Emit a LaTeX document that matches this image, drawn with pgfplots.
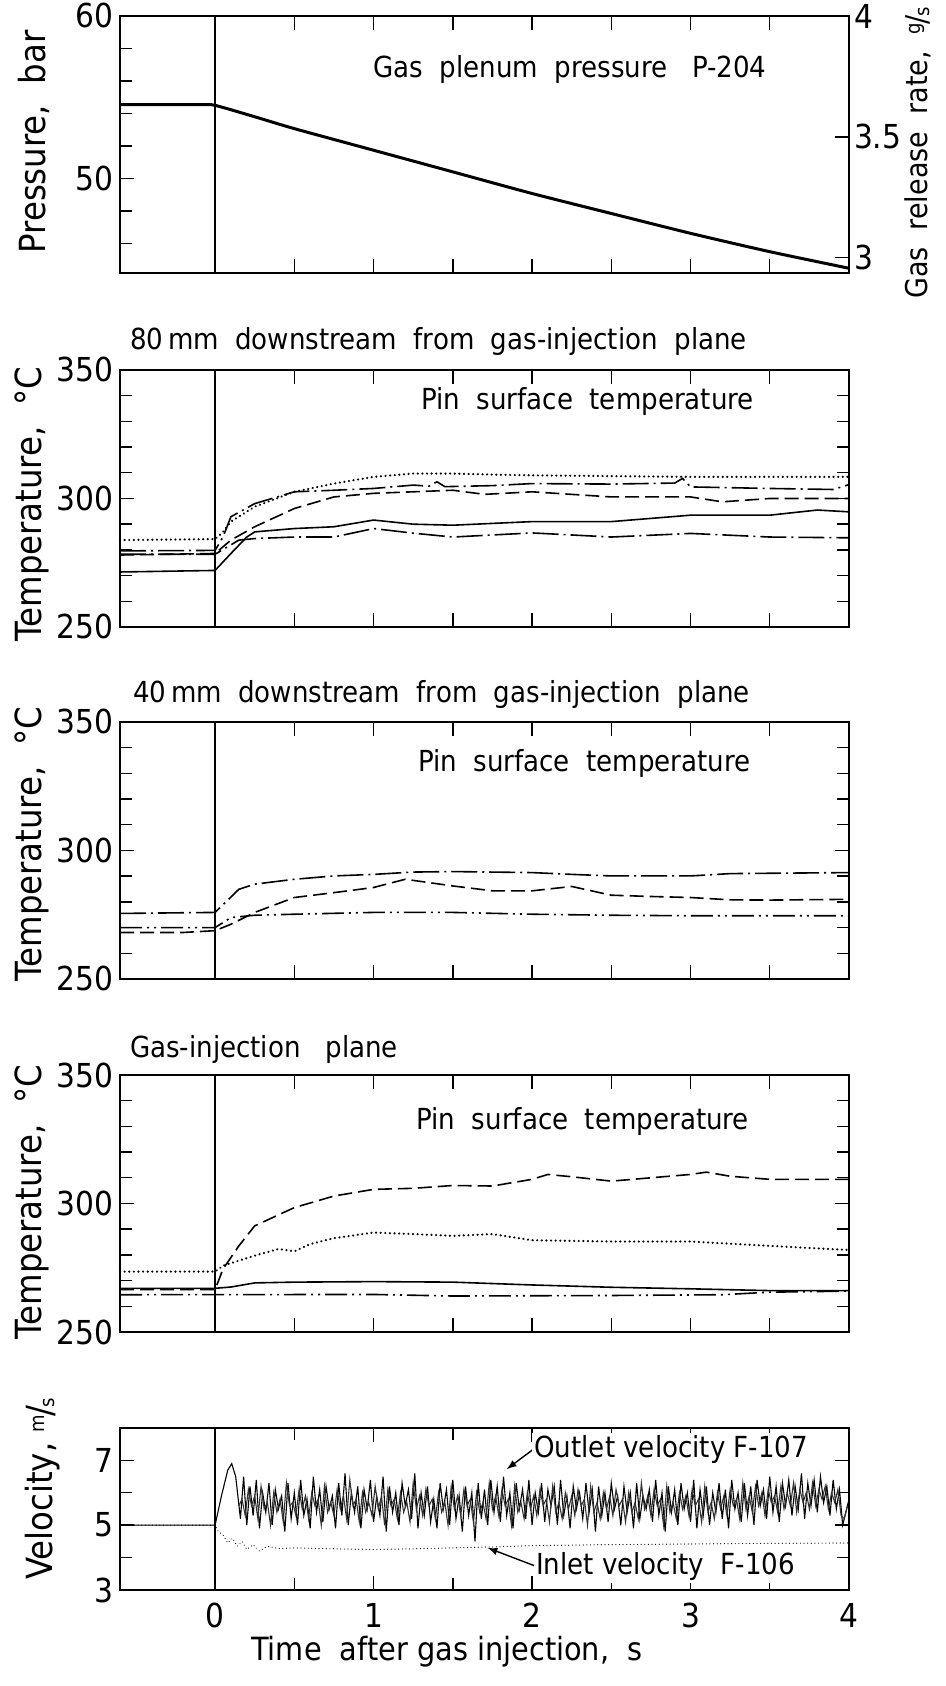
\documentclass[border=0pt]{standalone}
\usepackage{pgfplots}
\pgfplotsset{compat=1.18}
\usepackage{fontspec}
\setmainfont{DejaVu Sans Condensed}
\newcommand{\tfont}{\fontsize{16.5}{16.5}\selectfont}
\newcommand{\lfont}{\fontsize{18}{18}\selectfont}
\newcommand{\afont}{\fontsize{14.5}{15}\selectfont}
\newcommand{\unitfrac}[2]{\raisebox{0.45ex}{\fontsize{10}{10}\selectfont #1}\kern-0.05em/\kern-0.05em\raisebox{-0.1ex}{\fontsize{10}{10}\selectfont #2}}
\tikzset{
 dotl/.style={black, line width=1.2pt, line cap=round, dash pattern=on 0.01pt off 2.3pt},
 dashl/.style={black, line width=0.8pt, dash pattern=on 7pt off 3pt},
 ldl/.style={black, line width=0.8pt, dash pattern=on 13pt off 2.5pt on 1pt off 2.5pt},
 lddl/.style={black, line width=0.8pt, dash pattern=on 11pt off 2.5pt on 1pt off 2.5pt on 1pt off 2.5pt},
 soll/.style={black, line width=0.8pt},
}
\pgfplotsset{
 panel/.style={scale only axis, width=364.5pt, xmin=-0.6, xmax=4,
   axis line style={line width=1.1pt}, tick align=inside,
   xtick={0.5,1,1.5,2,2.5,3,3.5}, xticklabels={}, xtick pos=both,
   tick style={black,line width=0.7pt}, major tick length=7pt, minor tick length=6pt,
   tick label style={font=\tfont}, /pgf/number format/assume math mode=true,
   anchor=north west, clip=false},
 temp/.style={panel, height=128.5pt, ymin=250, ymax=350, ytick={250,300,350},
   minor ytick={260,270,280,290,310,320,330,340}, ytick pos=both, yticklabel pos=left},
}
\begin{document}
\begin{tikzpicture}
\useasboundingbox (0,0) rectangle (473pt,843pt);

% ---------------- Panel 1: pressure ----------------
\begin{axis}[panel, at={(60pt,835pt)}, height=128.5pt, ymin=44.19, ymax=60,
  ytick={50,60}, minor ytick={46,48,52,54,56,58}, ytick pos=left]
\addplot[soll, line width=0.6pt] coordinates {(0,44.19) (0,60)};
\addplot[black, line width=1.5pt, smooth, tension=0.4] coordinates {
 (-0.6,54.55) (-0.1,54.55) (0,54.5) (0.25,53.8) (0.5,53.07) (1.0,51.74) (1.5,50.41) (2.0,49.08)
 (2.5,47.85) (3.0,46.63) (3.5,45.5) (4.0,44.48)};
\node[font=\afont] at (axis cs:2.24,56.7) {Gas~~plenum~~pressure~~~P-204};
\end{axis}
\begin{axis}[panel, at={(60pt,835pt)}, height=128.5pt, ymin=2.937, ymax=4,
  axis x line=none, axis y line*=right, ytick={3,3.5,4}, yticklabels={3,3.5,4},
  yticklabel style={xshift=-1pt}]
\end{axis}
\node[font=\lfont, rotate=90] at (17pt,772pt) {Pressure,~~bar};
\node[font=\fontsize{15}{15}\selectfont, rotate=90] at (459pt,766.5pt) {Gas~~release~~rate,~~\unitfrac{g}{s}};

% ---------------- Panel 2: 80 mm ----------------
\node[font=\afont, anchor=west] at (61.5pt,672pt) {80\,mm~~downstream~~from~~gas-injection~~plane};
\begin{axis}[temp, at={(60pt,658pt)}]
\addplot[soll, line width=0.6pt] coordinates {(0,250) (0,350)};
\addplot[dotl] coordinates {(-0.6,283.8) (0,284.2) (0.05,287) (0.1,291) (0.25,296.8) (0.5,302.6)
 (0.75,305.8) (1.0,308.4) (1.25,309.7) (1.5,309.7) (1.75,309.3) (2.0,309) (2.5,308.7) (3.0,308.4) (3.5,308.4) (4.0,308.4)};
\addplot[ldl] coordinates {(-0.6,279.6) (0,279.8) (0.05,285) (0.1,292.9) (0.25,298) (0.5,302.6) (0.75,303.2)
 (1.0,303.9) (1.25,305.2) (1.35,304.8) (1.4,306.5) (1.45,304.6) (1.75,305.0) (2.0,305.8) (2.5,305.6)
 (2.9,306) (2.95,307.8) (3.0,304.5) (3.5,303.9) (3.9,303.5) (4.0,305.4)};
\addplot[dashl] coordinates {(-0.6,278) (0,278.6) (0.1,283.8) (0.25,289) (0.5,296.1) (0.75,300.6) (1.0,302)
 (1.5,303.2) (1.7,301.6) (2.0,302.6) (2.5,300.6) (3.0,300.6) (3.2,298.7) (3.5,300) (4.0,300)};
\addplot[soll] coordinates {(-0.6,271.4) (0,272) (0.1,278.6) (0.2,285) (0.25,287) (0.5,288.3) (0.75,289)
 (1.0,291.6) (1.25,290) (1.5,289.6) (2.0,291) (2.5,291) (3.0,293.5) (3.5,293.5) (3.8,295.5) (4.0,294.8)};
\addplot[ldl] coordinates {(-0.6,278.3) (0,278.3) (0.15,283.8) (0.25,284.4) (0.5,285) (0.75,285) (1.0,288.3)
 (1.25,286.5) (1.5,285) (2.0,286.6) (2.5,285) (3.0,286.4) (3.5,285) (4.0,284.7)};
\node[font=\afont] at (axis cs:2.35,337.9) {Pin~~surface~~temperature};
\end{axis}
\node[font=\lfont, rotate=90] at (16pt,591pt) {Temperature,~~°C};

% ---------------- Panel 3: 40 mm ----------------
\node[font=\afont, anchor=west] at (63pt,495.5pt) {40\,mm~~downstream~~from~~gas-injection~~plane};
\begin{axis}[temp, at={(60pt,482pt)}]
\addplot[soll, line width=0.6pt] coordinates {(0,250) (0,350)};
\addplot[ldl] coordinates {(-0.6,275.5) (0,275.9) (0.15,284.9) (0.25,286.9) (0.5,288.8) (0.75,290.1)
 (1.0,290.7) (1.25,291.6) (1.5,291.8) (2.0,291.4) (2.25,290.7) (2.5,290.1) (3.0,290.1) (3.25,291) (4.0,291.4)};
\addplot[dashl] coordinates {(-0.6,268.1) (-0.2,268.1) (0,268.8) (0.1,271.3) (0.25,275.9) (0.5,281.7)
 (0.75,283.6) (1.0,285.6) (1.2,288.8) (1.5,286.2) (1.75,284.3) (2.0,284.3) (2.25,286) (2.5,282.6)
 (2.75,282.1) (3.0,281.7) (3.25,280.8) (3.5,280.7) (4.0,281)};
\addplot[lddl] coordinates {(-0.6,270) (0,270) (0.1,273.9) (0.25,274.8) (0.5,275.2) (1.0,275.9) (1.5,275.9)
 (2.0,275.2) (2.5,274.8) (3.0,274.6) (4.0,274.6)};
\node[font=\afont] at (axis cs:2.33,334) {Pin~~surface~~temperature};
\end{axis}
\node[font=\lfont, rotate=90] at (16pt,421pt) {Temperature,~~°C};

% ---------------- Panel 4: gas-injection plane ----------------
\node[font=\afont, anchor=west] at (61.5pt,318pt) {Gas-injection~~~plane};
\begin{axis}[temp, at={(60pt,305.5pt)}]
\addplot[soll, line width=0.6pt] coordinates {(0,250) (0,350)};
\addplot[dashl] coordinates {(-0.6,266.5) (0,266.5) (0.05,274.5) (0.15,283.5) (0.25,291.3) (0.5,298.4)
 (0.75,302.9) (1.0,305.5) (1.25,305.9) (1.5,307) (1.75,306.8) (2.0,309.4) (2.1,311.3) (2.25,310.4)
 (2.5,308.7) (2.75,310) (3.0,311.3) (3.1,312.2) (3.25,310.6) (3.5,309.4) (4.0,309.4)};
\addplot[dotl] coordinates {(-0.6,273.5) (0,273.5) (0.05,275.8) (0.25,279.7) (0.4,282.3) (0.5,281.4)
 (0.6,284.2) (0.75,286.5) (1.0,288.7) (1.25,288.1) (1.5,287.4) (1.75,288.1) (2.0,285.7) (2.5,285.2)
 (3.0,285.2) (3.5,283.5) (4.0,281.9)};
\addplot[soll] coordinates {(-0.6,267) (0,267) (0.1,267.5) (0.25,269.1) (0.5,269.4) (1.0,269.6) (1.5,269.4)
 (2.0,268.3) (2.5,267.4) (3.0,266.8) (3.5,266.1) (4.0,266.1)};
\addplot[lddl] coordinates {(-0.6,264.5) (1.0,264.6) (1.5,264) (2.5,264.2) (3.2,264.5) (3.5,265.5) (4.0,265.9)};
\node[font=\afont] at (axis cs:2.32,331.8) {Pin~~surface~~temperature};
\end{axis}
\node[font=\lfont, rotate=90] at (16pt,242pt) {Temperature,~~°C};

% ---------------- Panel 5: velocity ----------------
\begin{axis}[panel, at={(60pt,129pt)}, height=81pt, ymin=3, ymax=8,
  ytick={3,5,7}, minor ytick={4,6}, ytick pos=both, yticklabel pos=left,
  xtick={0,1,2,3,4}, xticklabels={0,1,2,3,4}, minor xtick={0.5,1.5,2.5,3.5},
  xticklabel pos=lower, xticklabel style={yshift=-3pt}]
\addplot[soll, line width=0.6pt] coordinates {(0,3) (0,8)};
\addplot[black, line width=0.55pt] table[row sep=\\] {
t v\\
-0.6 5.0\\ 0 5.0\\ 0.04 5.9\\ 0.08 6.7\\ 0.105 6.9\\ 0.13 6.5\\
0.16 5.2\\ 0.18 6.5\\ 0.20 5.0\\ 0.22 6.2\\ 0.24 5.3\\ 0.26 6.4\\ 0.28 4.9\\ 0.30 6.0\\ 0.32 5.4\\ 0.34 6.3\\
0.36 5.0\\ 0.38 6.1\\ 0.40 5.5\\ 0.42 5.9\\ 0.44 4.8\\ 0.46 6.3\\ 0.48 5.2\\ 0.50 6.0\\ 0.52 5.0\\ 0.54 6.4\\
0.56 5.3\\ 0.58 5.8\\ 0.60 4.9\\ 0.62 6.5\\ 0.64 5.4\\ 0.66 6.1\\ 0.68 5.1\\ 0.70 6.2\\ 0.72 5.5\\ 0.74 5.9\\
0.76 4.9\\ 0.78 6.3\\ 0.80 5.3\\ 0.82 6.6\\ 0.84 5.0\\ 0.86 6.0\\ 0.88 5.4\\ 0.90 6.2\\ 0.92 4.9\\ 0.94 6.1\\
0.96 5.5\\ 0.98 6.4\\ 1.00 5.1\\ 1.02 5.9\\ 1.04 5.3\\ 1.06 6.5\\ 1.08 4.8\\ 1.10 6.2\\ 1.12 5.4\\ 1.14 6.0\\
1.16 5.0\\ 1.18 6.3\\ 1.20 5.6\\ 1.22 6.1\\ 1.24 5.2\\ 1.26 6.6\\ 1.28 4.9\\ 1.30 6.0\\ 1.32 5.3\\ 1.34 6.2\\
1.36 5.1\\ 1.38 5.8\\ 1.40 4.9\\ 1.42 6.3\\ 1.44 5.5\\ 1.46 6.1\\ 1.48 5.0\\ 1.50 6.4\\ 1.52 5.2\\ 1.54 5.9\\
1.56 4.8\\ 1.58 6.2\\ 1.60 5.3\\ 1.62 6.0\\ 1.64 4.5\\ 1.66 6.3\\ 1.68 5.2\\ 1.70 6.1\\ 1.72 5.0\\ 1.74 6.4\\
1.76 5.4\\ 1.78 6.2\\ 1.80 5.1\\ 1.82 6.5\\ 1.84 5.3\\ 1.86 6.0\\ 1.88 4.9\\ 1.90 6.3\\ 1.92 5.5\\ 1.94 6.1\\
1.96 5.2\\ 1.98 6.4\\ 2.00 5.0\\ 2.02 6.0\\ 2.04 5.4\\ 2.06 6.3\\ 2.08 5.1\\ 2.10 6.1\\ 2.12 5.6\\ 2.14 6.2\\
2.16 5.0\\ 2.18 6.4\\ 2.20 5.3\\ 2.22 5.9\\ 2.24 4.9\\ 2.26 6.2\\ 2.28 5.5\\ 2.30 6.0\\ 2.32 5.2\\ 2.34 6.3\\
2.36 5.4\\ 2.38 6.1\\ 2.40 4.8\\ 2.42 6.2\\ 2.44 5.3\\ 2.46 6.0\\ 2.48 5.1\\ 2.50 6.3\\ 2.52 5.5\\ 2.54 5.9\\
2.56 5.0\\ 2.58 6.2\\ 2.60 5.4\\ 2.62 6.0\\ 2.64 4.9\\ 2.66 6.3\\ 2.68 5.2\\ 2.70 5.9\\ 2.72 5.5\\ 2.74 6.1\\
2.76 5.1\\ 2.78 6.4\\ 2.80 5.3\\ 2.82 6.0\\ 2.84 4.8\\ 2.86 6.2\\ 2.88 5.4\\ 2.90 6.1\\ 2.92 5.0\\ 2.94 6.3\\
2.96 5.5\\ 2.98 6.0\\ 3.00 5.1\\ 3.02 6.4\\ 3.04 4.9\\ 3.06 6.1\\ 3.08 5.3\\ 3.10 6.2\\ 3.12 5.0\\ 3.14 6.0\\
3.16 5.4\\ 3.18 6.3\\ 3.20 5.2\\ 3.22 6.1\\ 3.24 4.9\\ 3.26 6.4\\ 3.28 5.5\\ 3.30 6.0\\ 3.32 5.1\\ 3.34 6.3\\
3.36 5.3\\ 3.38 6.2\\ 3.40 5.0\\ 3.42 6.4\\ 3.44 5.6\\ 3.46 6.1\\ 3.48 5.2\\ 3.50 6.5\\ 3.52 5.4\\ 3.54 6.2\\
3.56 5.1\\ 3.58 6.3\\ 3.60 5.6\\ 3.62 6.4\\ 3.64 5.3\\ 3.66 6.2\\ 3.68 5.5\\ 3.70 6.6\\ 3.72 5.2\\ 3.74 6.3\\
3.76 5.6\\ 3.78 6.4\\ 3.80 5.4\\ 3.82 6.5\\ 3.84 5.7\\ 3.86 6.2\\ 3.88 5.3\\ 3.90 6.4\\ 3.92 5.5\\ 3.94 6.1\\
3.96 5.0\\ 3.98 5.4\\ 4.00 5.8\\
};
\addplot[black!80, line width=0.55pt] table[row sep=\\] {
t v\\
0.15 5.6\\
0.17 5.8\\ 0.19 5.3\\ 0.21 6.1\\ 0.23 5.6\\ 0.25 5.9\\ 0.27 5.2\\ 0.29 6.2\\ 0.31 5.5\\ 0.33 5.7\\ 0.35 5.0\\
0.37 6.0\\ 0.39 5.4\\ 0.41 5.8\\ 0.43 5.1\\ 0.45 6.3\\ 0.47 5.6\\ 0.49 5.7\\ 0.51 5.3\\ 0.53 6.1\\ 0.55 5.5\\
0.57 5.9\\ 0.59 5.2\\ 0.61 6.0\\ 0.63 5.6\\ 0.65 5.8\\ 0.67 5.0\\ 0.69 6.2\\ 0.71 5.4\\ 0.73 5.7\\ 0.75 5.3\\
0.77 6.1\\ 0.79 5.5\\ 0.81 5.9\\ 0.83 5.2\\ 0.85 6.4\\ 0.87 5.6\\ 0.89 5.8\\ 0.91 5.1\\ 0.93 6.0\\ 0.95 5.4\\
0.97 5.7\\ 0.99 5.3\\ 1.01 6.2\\ 1.03 5.5\\ 1.05 5.9\\ 1.07 5.0\\ 1.09 6.1\\ 1.11 5.6\\ 1.13 5.8\\ 1.15 5.2\\
1.17 6.0\\ 1.19 5.4\\ 1.21 5.7\\ 1.23 5.1\\ 1.25 6.3\\ 1.27 5.5\\ 1.29 5.9\\ 1.31 5.3\\ 1.33 6.1\\ 1.35 5.6\\
1.37 5.8\\ 1.39 5.2\\ 1.41 6.0\\ 1.43 5.4\\ 1.45 5.7\\ 1.47 5.0\\ 1.49 6.2\\ 1.51 5.5\\ 1.53 5.9\\ 1.55 5.3\\
1.57 6.1\\ 1.59 5.6\\ 1.61 5.8\\ 1.63 5.1\\ 1.65 6.0\\ 1.67 5.4\\ 1.69 5.7\\ 1.71 5.2\\ 1.73 6.3\\ 1.75 5.5\\
1.77 5.9\\ 1.79 5.3\\ 1.81 6.1\\ 1.83 5.6\\ 1.85 5.8\\ 1.87 5.0\\ 1.89 6.2\\ 1.91 5.4\\ 1.93 5.7\\ 1.95 5.2\\
1.97 6.0\\ 1.99 5.5\\ 2.01 5.9\\ 2.03 5.3\\ 2.05 6.1\\ 2.07 5.6\\ 2.09 5.8\\ 2.11 5.1\\ 2.13 6.2\\ 2.15 5.4\\
2.17 5.7\\ 2.19 5.2\\ 2.21 6.0\\ 2.23 5.5\\ 2.25 5.9\\ 2.27 5.3\\ 2.29 6.1\\ 2.31 5.6\\ 2.33 5.8\\ 2.35 5.0\\
2.37 6.2\\ 2.39 5.4\\ 2.41 5.7\\ 2.43 5.2\\ 2.45 6.0\\ 2.47 5.5\\ 2.49 5.9\\ 2.51 5.3\\ 2.53 6.1\\ 2.55 5.6\\
2.57 5.8\\ 2.59 5.1\\ 2.61 6.0\\ 2.63 5.4\\ 2.65 5.7\\ 2.67 5.2\\ 2.69 6.3\\ 2.71 5.5\\ 2.73 5.9\\ 2.75 5.3\\
2.77 6.1\\ 2.79 5.6\\ 2.81 5.8\\ 2.83 5.0\\ 2.85 6.2\\ 2.87 5.4\\ 2.89 5.7\\ 2.91 5.2\\ 2.93 6.0\\ 2.95 5.5\\
2.97 5.9\\ 2.99 5.3\\ 3.01 6.1\\ 3.03 5.6\\ 3.05 5.8\\ 3.07 5.1\\ 3.09 6.2\\ 3.11 5.4\\ 3.13 5.7\\ 3.15 5.2\\
3.17 6.0\\ 3.19 5.5\\ 3.21 5.9\\ 3.23 5.3\\ 3.25 6.1\\ 3.27 5.6\\ 3.29 5.8\\ 3.31 5.2\\ 3.33 6.3\\ 3.35 5.5\\
3.37 5.9\\ 3.39 5.4\\ 3.41 6.2\\ 3.43 5.6\\ 3.45 6.0\\ 3.47 5.3\\ 3.49 6.1\\ 3.51 5.7\\ 3.53 5.9\\ 3.55 5.4\\
3.57 6.2\\ 3.59 5.5\\ 3.61 6.0\\ 3.63 5.6\\ 3.65 6.3\\ 3.67 5.4\\ 3.69 6.1\\ 3.71 5.7\\ 3.73 6.0\\ 3.75 5.5\\
3.77 6.3\\ 3.79 5.6\\ 3.81 6.1\\ 3.83 5.8\\ 3.85 6.2\\ 3.87 5.5\\ 3.89 6.0\\ 3.91 5.7\\ 3.93 6.1\\ 3.95 5.3\\
3.97 5.2\\ 3.99 5.6\\
};
\addplot[black, line width=0.6pt, line cap=round, dash pattern=on 0.01pt off 1.8pt] coordinates {
 (-0.6,5.0) (0,5.0) (0.02,4.8) (0.05,4.7) (0.08,4.45) (0.11,4.6) (0.14,4.35) (0.17,4.5) (0.2,4.25)
 (0.24,4.4) (0.28,4.2) (0.33,4.35) (0.4,4.28) (0.5,4.3) (0.75,4.27) (1.0,4.25) (1.25,4.27) (1.5,4.3)
 (1.75,4.33) (2.0,4.37) (2.5,4.4) (3.0,4.42) (3.5,4.44) (4.0,4.45)};
\draw[-latex, line width=0.7pt] (axis cs:2.01,7.35) -- (axis cs:1.84,6.73);
\draw[-latex, line width=0.7pt] (axis cs:2.02,3.74) -- (axis cs:1.72,4.3);
\node[font=\afont, anchor=west, fill=white, inner sep=1pt] at (axis cs:2.0,7.35) {Outlet~velocity~F-107};
\node[font=\afont, anchor=west, fill=white, inner sep=1pt] at (axis cs:2.01,3.72) {Inlet~velocity~~F-106};
\end{axis}
\node[font=\lfont, rotate=90] at (21.5pt,98.5pt) {Velocity,~\unitfrac{m}{s}};
\node[font=\fontsize{16}{16}\selectfont] at (223.5pt,17pt) {Time~~after~gas~injection,~~s};
\end{tikzpicture}
\end{document}
